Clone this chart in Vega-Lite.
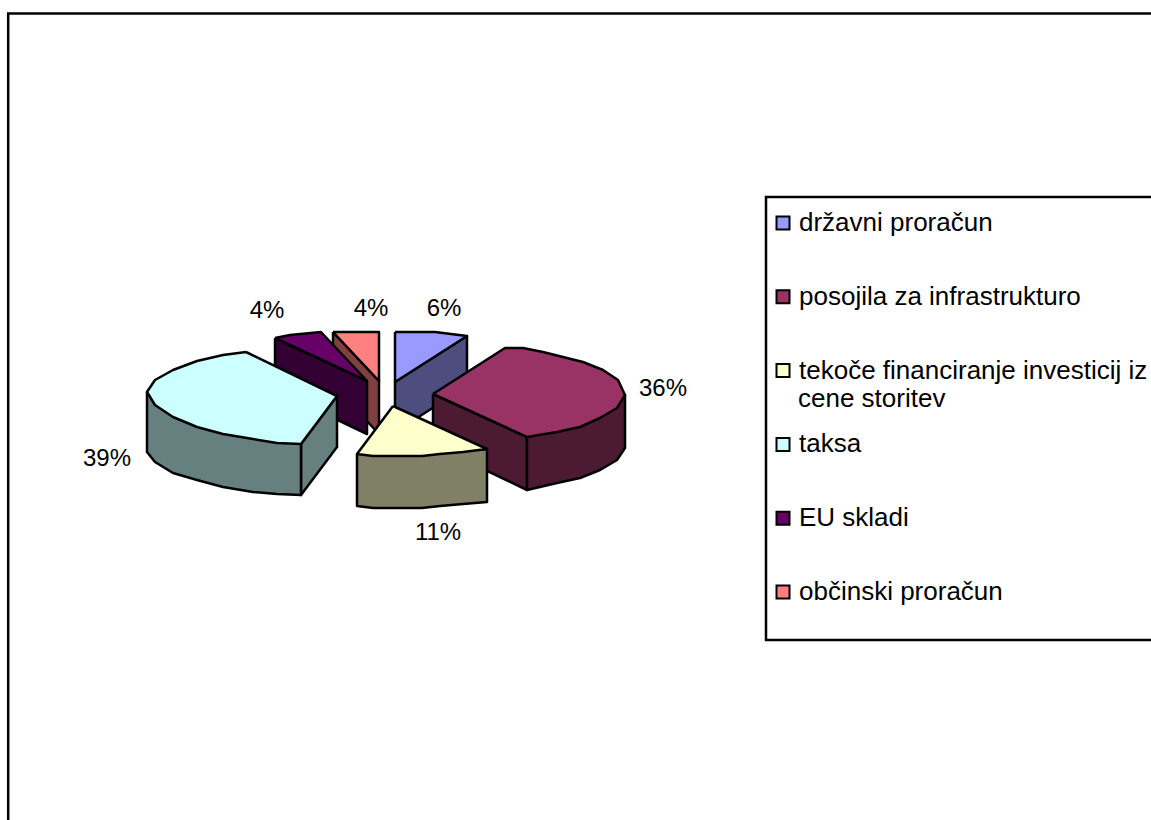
{
  "$schema": "https://vega.github.io/schema/vega-lite/v6.json",
  "width": 1151,
  "height": 820,
  "padding": 0,
  "autosize": {"type": "none"},
  "background": "white",
  "view": {"stroke": null},
  "config": {"font": "Liberation Sans"},
  "datasets": {
    "frame": [
      {"n": 0, "x": 1151, "y": 13.5},
      {"n": 1, "x": 8.2, "y": 13.5},
      {"n": 2, "x": 8.2, "y": 820}
    ],
    "legendBox": [
      {"x": 766, "x2": 1165, "y": 197, "y2": 640}
    ],
    "wrappedLine": [
      {"text": "cene storitev", "x": 798, "y": 399}
    ],
    "labels": [
      {"slice": "državni proračun", "share": 6, "label": "6%", "x": 444, "y": 309},
      {"slice": "posojila za infrastrukturo", "share": 36, "label": "36%", "x": 663, "y": 389},
      {"slice": "tekoče financiranje investicij iz cene storitev", "share": 11, "label": "11%", "x": 438, "y": 533},
      {"slice": "taksa", "share": 39, "label": "39%", "x": 107, "y": 459},
      {"slice": "EU skladi", "share": 4, "label": "4%", "x": 267, "y": 311},
      {"slice": "občinski proračun", "share": 4, "label": "4%", "x": 371, "y": 309}
    ],
    "faces": [
      {"face": "d1", "part": "državni stena", "n": 0, "x": 395, "y": 382},
      {"face": "d1", "part": "državni stena", "n": 1, "x": 467, "y": 336},
      {"face": "d1", "part": "državni stena", "n": 2, "x": 467, "y": 386},
      {"face": "d1", "part": "državni stena", "n": 3, "x": 395, "y": 432},
      {"face": "d1", "part": "državni stena", "n": 4, "x": 395, "y": 382},
      {"face": "d0", "part": "državni proračun", "n": 0, "x": 395, "y": 332},
      {"face": "d0", "part": "državni proračun", "n": 1, "x": 435, "y": 332},
      {"face": "d0", "part": "državni proračun", "n": 2, "x": 467, "y": 336},
      {"face": "d0", "part": "državni proračun", "n": 3, "x": 395, "y": 382},
      {"face": "d0", "part": "državni proračun", "n": 4, "x": 395, "y": 332},

      {"face": "o1", "part": "občinski stena", "n": 0, "x": 333, "y": 332},
      {"face": "o1", "part": "občinski stena", "n": 1, "x": 379, "y": 381},
      {"face": "o1", "part": "občinski stena", "n": 2, "x": 379, "y": 434},
      {"face": "o1", "part": "občinski stena", "n": 3, "x": 333, "y": 385},
      {"face": "o1", "part": "občinski stena", "n": 4, "x": 333, "y": 332},
      {"face": "o0", "part": "občinski proračun", "n": 0, "x": 333, "y": 332},
      {"face": "o0", "part": "občinski proračun", "n": 1, "x": 379, "y": 332},
      {"face": "o0", "part": "občinski proračun", "n": 2, "x": 379, "y": 381},
      {"face": "o0", "part": "občinski proračun", "n": 3, "x": 333, "y": 332},

      {"face": "e1", "part": "EU stena", "n": 0, "x": 275, "y": 338},
      {"face": "e1", "part": "EU stena", "n": 1, "x": 367, "y": 381},
      {"face": "e1", "part": "EU stena", "n": 2, "x": 367, "y": 434},
      {"face": "e1", "part": "EU stena", "n": 3, "x": 275, "y": 390},
      {"face": "e1", "part": "EU stena", "n": 4, "x": 275, "y": 338},
      {"face": "e0", "part": "EU skladi", "n": 0, "x": 275, "y": 338},
      {"face": "e0", "part": "EU skladi", "n": 1, "x": 290, "y": 335},
      {"face": "e0", "part": "EU skladi", "n": 2, "x": 321, "y": 332},
      {"face": "e0", "part": "EU skladi", "n": 3, "x": 367, "y": 381},
      {"face": "e0", "part": "EU skladi", "n": 4, "x": 275, "y": 338},

      {"face": "t2", "part": "taksa stena", "n": 0, "x": 301, "y": 444},
      {"face": "t2", "part": "taksa stena", "n": 1, "x": 337, "y": 396},
      {"face": "t2", "part": "taksa stena", "n": 2, "x": 337, "y": 447},
      {"face": "t2", "part": "taksa stena", "n": 3, "x": 301, "y": 495},
      {"face": "t2", "part": "taksa stena", "n": 4, "x": 301, "y": 444},
      {"face": "t1", "part": "taksa stena", "n": 0, "x": 147, "y": 392},
      {"face": "t1", "part": "taksa stena", "n": 1, "x": 147, "y": 452},
      {"face": "t1", "part": "taksa stena", "n": 2, "x": 155, "y": 462},
      {"face": "t1", "part": "taksa stena", "n": 3, "x": 173, "y": 473},
      {"face": "t1", "part": "taksa stena", "n": 4, "x": 197, "y": 480},
      {"face": "t1", "part": "taksa stena", "n": 5, "x": 223, "y": 487},
      {"face": "t1", "part": "taksa stena", "n": 6, "x": 253, "y": 492},
      {"face": "t1", "part": "taksa stena", "n": 7, "x": 277, "y": 494},
      {"face": "t1", "part": "taksa stena", "n": 8, "x": 301, "y": 495},
      {"face": "t1", "part": "taksa stena", "n": 9, "x": 301, "y": 444},
      {"face": "t1", "part": "taksa stena", "n": 10, "x": 147, "y": 392},
      {"face": "t0", "part": "taksa", "n": 0, "x": 246, "y": 352},
      {"face": "t0", "part": "taksa", "n": 1, "x": 337, "y": 396},
      {"face": "t0", "part": "taksa", "n": 2, "x": 301, "y": 444},
      {"face": "t0", "part": "taksa", "n": 3, "x": 277, "y": 443},
      {"face": "t0", "part": "taksa", "n": 4, "x": 253, "y": 439},
      {"face": "t0", "part": "taksa", "n": 5, "x": 223, "y": 434},
      {"face": "t0", "part": "taksa", "n": 6, "x": 197, "y": 427},
      {"face": "t0", "part": "taksa", "n": 7, "x": 173, "y": 417},
      {"face": "t0", "part": "taksa", "n": 8, "x": 155, "y": 405},
      {"face": "t0", "part": "taksa", "n": 9, "x": 147, "y": 392},
      {"face": "t0", "part": "taksa", "n": 10, "x": 155, "y": 380},
      {"face": "t0", "part": "taksa", "n": 11, "x": 173, "y": 370},
      {"face": "t0", "part": "taksa", "n": 12, "x": 197, "y": 361},
      {"face": "t0", "part": "taksa", "n": 13, "x": 223, "y": 355},
      {"face": "t0", "part": "taksa", "n": 14, "x": 246, "y": 352},

      {"face": "p2", "part": "posojila stena", "n": 0, "x": 433, "y": 394},
      {"face": "p2", "part": "posojila stena", "n": 1, "x": 527, "y": 437},
      {"face": "p2", "part": "posojila stena", "n": 2, "x": 527, "y": 490},
      {"face": "p2", "part": "posojila stena", "n": 3, "x": 433, "y": 445},
      {"face": "p2", "part": "posojila stena", "n": 4, "x": 433, "y": 394},
      {"face": "p1", "part": "posojila stena", "n": 0, "x": 527, "y": 437},
      {"face": "p1", "part": "posojila stena", "n": 1, "x": 625, "y": 395},
      {"face": "p1", "part": "posojila stena", "n": 2, "x": 625, "y": 448},
      {"face": "p1", "part": "posojila stena", "n": 3, "x": 617, "y": 460},
      {"face": "p1", "part": "posojila stena", "n": 4, "x": 600, "y": 470},
      {"face": "p1", "part": "posojila stena", "n": 5, "x": 580, "y": 478},
      {"face": "p1", "part": "posojila stena", "n": 6, "x": 557, "y": 483},
      {"face": "p1", "part": "posojila stena", "n": 7, "x": 527, "y": 490},
      {"face": "p1", "part": "posojila stena", "n": 8, "x": 527, "y": 437},
      {"face": "p0", "part": "posojila za infrastrukturo", "n": 0, "x": 433, "y": 394},
      {"face": "p0", "part": "posojila za infrastrukturo", "n": 1, "x": 505, "y": 348},
      {"face": "p0", "part": "posojila za infrastrukturo", "n": 2, "x": 523, "y": 348},
      {"face": "p0", "part": "posojila za infrastrukturo", "n": 3, "x": 543, "y": 352},
      {"face": "p0", "part": "posojila za infrastrukturo", "n": 4, "x": 563, "y": 357},
      {"face": "p0", "part": "posojila za infrastrukturo", "n": 5, "x": 583, "y": 362},
      {"face": "p0", "part": "posojila za infrastrukturo", "n": 6, "x": 603, "y": 370},
      {"face": "p0", "part": "posojila za infrastrukturo", "n": 7, "x": 618, "y": 380},
      {"face": "p0", "part": "posojila za infrastrukturo", "n": 8, "x": 625, "y": 395},
      {"face": "p0", "part": "posojila za infrastrukturo", "n": 9, "x": 617, "y": 408},
      {"face": "p0", "part": "posojila za infrastrukturo", "n": 10, "x": 600, "y": 418},
      {"face": "p0", "part": "posojila za infrastrukturo", "n": 11, "x": 580, "y": 427},
      {"face": "p0", "part": "posojila za infrastrukturo", "n": 12, "x": 557, "y": 432},
      {"face": "p0", "part": "posojila za infrastrukturo", "n": 13, "x": 527, "y": 437},
      {"face": "p0", "part": "posojila za infrastrukturo", "n": 14, "x": 433, "y": 394},

      {"face": "c1", "part": "tekoče stena", "n": 0, "x": 357, "y": 454},
      {"face": "c1", "part": "tekoče stena", "n": 1, "x": 487, "y": 449},
      {"face": "c1", "part": "tekoče stena", "n": 2, "x": 487, "y": 502},
      {"face": "c1", "part": "tekoče stena", "n": 3, "x": 463, "y": 504},
      {"face": "c1", "part": "tekoče stena", "n": 4, "x": 440, "y": 506},
      {"face": "c1", "part": "tekoče stena", "n": 5, "x": 422, "y": 508},
      {"face": "c1", "part": "tekoče stena", "n": 6, "x": 393, "y": 508},
      {"face": "c1", "part": "tekoče stena", "n": 7, "x": 373, "y": 508},
      {"face": "c1", "part": "tekoče stena", "n": 8, "x": 357, "y": 506},
      {"face": "c1", "part": "tekoče stena", "n": 9, "x": 357, "y": 454},
      {"face": "c0", "part": "tekoče financiranje investicij iz cene storitev", "n": 0, "x": 393, "y": 406},
      {"face": "c0", "part": "tekoče financiranje investicij iz cene storitev", "n": 1, "x": 487, "y": 449},
      {"face": "c0", "part": "tekoče financiranje investicij iz cene storitev", "n": 2, "x": 463, "y": 452},
      {"face": "c0", "part": "tekoče financiranje investicij iz cene storitev", "n": 3, "x": 440, "y": 454},
      {"face": "c0", "part": "tekoče financiranje investicij iz cene storitev", "n": 4, "x": 422, "y": 456},
      {"face": "c0", "part": "tekoče financiranje investicij iz cene storitev", "n": 5, "x": 393, "y": 456},
      {"face": "c0", "part": "tekoče financiranje investicij iz cene storitev", "n": 6, "x": 373, "y": 456},
      {"face": "c0", "part": "tekoče financiranje investicij iz cene storitev", "n": 7, "x": 357, "y": 454},
      {"face": "c0", "part": "tekoče financiranje investicij iz cene storitev", "n": 8, "x": 393, "y": 406}
    ]
  },
  "layer": [
    {
      "data": {"name": "frame"},
      "mark": {"type": "line", "stroke": "black", "strokeWidth": 2.5, "strokeJoin": "miter"},
      "encoding": {
        "x": {"field": "x", "type": "quantitative", "scale": {"domain": [0, 1151]}, "axis": null},
        "y": {"field": "y", "type": "quantitative", "scale": {"domain": [820, 0]}, "axis": null},
        "order": {"field": "n"}
      }
    },
    {
      "data": {"name": "legendBox"},
      "mark": {"type": "rect", "fill": "white", "stroke": "black", "strokeWidth": 2.5},
      "encoding": {
        "x": {"field": "x", "type": "quantitative", "scale": {"domain": [0, 1151]}, "axis": null},
        "x2": {"field": "x2"},
        "y": {"field": "y", "type": "quantitative", "scale": {"domain": [820, 0]}, "axis": null},
        "y2": {"field": "y2"}
      }
    },
    {
      "data": {"name": "faces"},
      "mark": {"type": "line", "stroke": "black", "strokeWidth": 2.5, "strokeJoin": "round"},
      "encoding": {
        "x": {"field": "x", "type": "quantitative", "scale": {"domain": [0, 1151]}, "axis": null},
        "y": {"field": "y", "type": "quantitative", "scale": {"domain": [820, 0]}, "axis": null},
        "order": {"field": "n"},
        "detail": {"field": "face"},
        "fill": {
          "field": "part",
          "type": "nominal",
          "scale": {
            "domain": [
              "državni proračun",
              "posojila za infrastrukturo",
              "tekoče financiranje investicij iz cene storitev",
              "taksa",
              "EU skladi",
              "občinski proračun",
              "državni stena",
              "posojila stena",
              "tekoče stena",
              "taksa stena",
              "EU stena",
              "občinski stena"
            ],
            "range": [
              "#9999FF", "#993366", "#FFFFCC", "#CCFFFF", "#660066", "#FF8080",
              "#4D4D80", "#4D1A33", "#808066", "#668080", "#330033", "#804040"
            ]
          },
          "legend": {
            "title": null,
            "orient": "none",
            "legendX": 770,
            "legendY": 210,
            "values": [
              "državni proračun",
              "posojila za infrastrukturo",
              "tekoče financiranje investicij iz cene storitev",
              "taksa",
              "EU skladi",
              "občinski proračun"
            ],
            "padding": 0,
            "rowPadding": 47.8,
            "symbolType": "square",
            "symbolSize": 169,
            "symbolStrokeColor": "black",
            "symbolStrokeWidth": 2,
            "labelFont": "Liberation Sans",
            "labelFontSize": 26,
            "labelColor": "black",
            "labelLimit": 500,
            "labelOffset": 3,
            "labelExpr": "datum.label === 'tekoče financiranje investicij iz cene storitev' ? 'tekoče financiranje investicij iz' : datum.label"
          }
        }
      }
    },
    {
      "data": {"name": "wrappedLine"},
      "mark": {"type": "text", "font": "Liberation Sans", "fontSize": 26, "color": "black", "align": "left", "baseline": "middle"},
      "encoding": {
        "x": {"field": "x", "type": "quantitative", "scale": {"domain": [0, 1151]}, "axis": null},
        "y": {"field": "y", "type": "quantitative", "scale": {"domain": [820, 0]}, "axis": null},
        "text": {"field": "text"}
      }
    },
    {
      "data": {"name": "labels"},
      "mark": {"type": "text", "font": "Liberation Sans", "fontSize": 24, "color": "black", "align": "center", "baseline": "middle"},
      "encoding": {
        "x": {"field": "x", "type": "quantitative", "scale": {"domain": [0, 1151]}, "axis": null},
        "y": {"field": "y", "type": "quantitative", "scale": {"domain": [820, 0]}, "axis": null},
        "text": {"field": "label"}
      }
    }
  ]
}
